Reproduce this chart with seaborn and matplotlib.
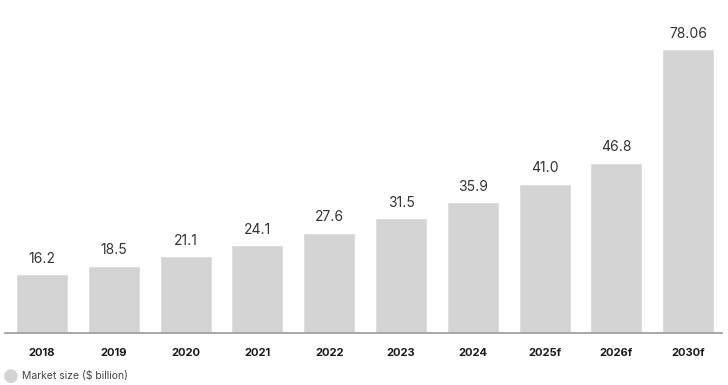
import matplotlib
matplotlib.use("Agg")
import matplotlib.pyplot as plt
import seaborn as sns
import pandas as pd

# data
years = ["2018", "2019", "2020", "2021", "2022", "2023", "2024", "2025f", "2026f", "2030f"]
market_size = [16.2, 18.5, 21.1, 24.1, 27.6, 31.5, 35.9, 41.0, 46.8, 78.06]
value_labels = ["16.2", "18.5", "21.1", "24.1", "27.6", "31.5", "35.9", "41.0", "46.8", "78.06"]

df = pd.DataFrame({"year": years, "size": market_size})

sns.set_theme(style="white")
plt.rcParams["font.family"] = ["Inter", "DejaVu Sans"]

bar_color = "#d4d4d4"

fig = plt.figure(figsize=(7.28, 3.85), dpi=100)
# axes: baseline at 333px from top, spans x 5..722
ax = fig.add_axes([5 / 728, 52 / 385, 717 / 728, 333 / 385])

sns.barplot(data=df, x="year", y="size", color=bar_color, width=0.724,
            saturation=1, ax=ax)

ax.set_xlim(-0.515, 9.47)
ax.set_ylim(0, 333 / 3.64)

for i, (v, lab) in enumerate(zip(market_size, value_labels)):
    ax.annotate(lab, (i, v), xytext=(0, 6), textcoords="offset points",
                ha="center", va="bottom", fontsize=10, color="#333333")

for s in ["top", "right", "left"]:
    ax.spines[s].set_visible(False)
ax.spines["bottom"].set_color("#9a9a9a")
ax.spines["bottom"].set_linewidth(1.2)

ax.set_yticks([])
ax.set_xlabel("")
ax.set_ylabel("")
ax.tick_params(axis="x", length=0, pad=11, labelsize=8, labelcolor="#1a1a1a")
for t in ax.get_xticklabels():
    t.set_fontweight("bold")

# legend
fig.text(11 / 728, 1 - 376 / 385, "\u25CF", fontsize=13, color=bar_color,
         ha="center", va="center", family="DejaVu Sans")
fig.text(22 / 728, 1 - 376 / 385, "Market size ($ billion)", fontsize=7.5,
         color="#444444", ha="left", va="center")

fig.savefig("out.png", dpi=100)
